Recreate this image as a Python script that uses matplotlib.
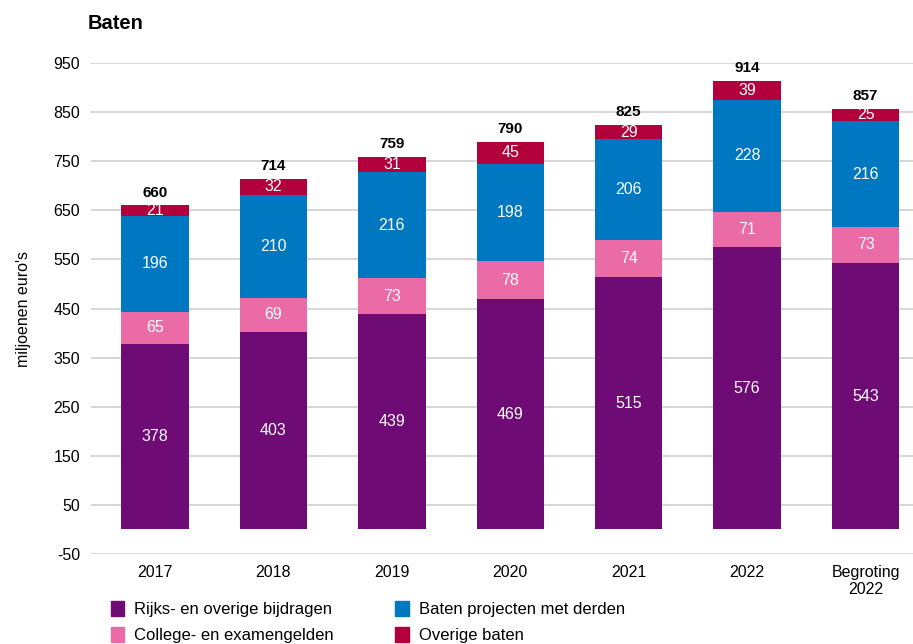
import matplotlib.pyplot as plt
import numpy as np
from matplotlib.patches import Patch

# Data
categories = ['2017', '2018', '2019', '2020', '2021', '2022', 'Begroting\n2022']
rijks = [378, 403, 439, 469, 515, 576, 543]
college = [65, 69, 73, 78, 74, 71, 73]
projecten = [196, 210, 216, 198, 206, 228, 216]
overige = [21, 32, 31, 45, 29, 39, 25]
totals = [660, 714, 759, 790, 825, 914, 857]

series = [
    ('Rijks- en overige bijdragen', rijks, '#6E0B75'),
    ('College- en examengelden', college, '#EA6BA6'),
    ('Baten projecten met derden', projecten, '#0078C1'),
    ('Overige baten', overige, '#B1003B'),
]

plt.rcParams['font.family'] = ['Liberation Sans', 'DejaVu Sans']
plt.rcParams['axes.unicode_minus'] = False

fig = plt.figure(figsize=(9.13, 6.44), dpi=100)
ax = fig.add_axes([0.0997, 0.1398, 0.9003, 0.7622])

x = np.arange(len(categories))
bottom = np.zeros(len(categories))
for name, vals, color in series:
    vals = np.array(vals)
    ax.bar(x, vals, 0.57, bottom=bottom, color=color, label=name, zorder=3)
    for xi, b, v in zip(x, bottom, vals):
        ax.text(xi, b + v / 2, str(v), ha='center', va='center',
                color='white', fontsize=11.5, zorder=4)
    bottom += vals

for xi, t in zip(x, totals):
    ax.text(xi, t + 12, str(t), ha='center', va='bottom',
            fontsize=11, fontweight='bold')

ax.set_ylim(-50, 950)
ax.set_xlim(-0.54, 6.4)
ax.set_yticks(np.arange(-50, 951, 100))
ax.set_xticks(x)
ax.set_xticklabels(categories, fontsize=11.5)
ax.tick_params(axis='y', labelsize=11.5, length=0, pad=8)
ax.tick_params(axis='x', length=0, pad=8)
ax.grid(axis='y', color='#D0D0D0', linewidth=1.2, zorder=0)
for s in ax.spines.values():
    s.set_visible(False)

ax.set_ylabel("miljoenen euro's", fontsize=11.5, labelpad=16)
fig.text(0.096, 0.963, 'Baten', fontsize=14.5, fontweight='bold', va='center')

handles = [Patch(color=c, label=n) for n, _, c in series]
fig.legend(handles, [s[0] for s in series],
           ncol=2, loc='lower left', bbox_to_anchor=(0.105, -0.022),
           frameon=False, fontsize=12, handlelength=0.8, handleheight=1.0,
           handletextpad=0.6, columnspacing=3.7, labelspacing=0.6)

plt.savefig('out.png', dpi=100)
